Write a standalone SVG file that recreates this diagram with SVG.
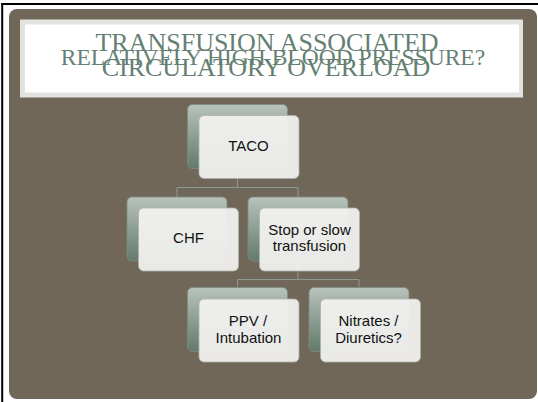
<svg xmlns="http://www.w3.org/2000/svg" width="538" height="402" viewBox="0 0 538 402">
  <defs>
    <linearGradient id="backFill" x1="0" y1="0" x2="0" y2="1">
      <stop offset="0" stop-color="#b8c3bb"/>
      <stop offset="0.5" stop-color="#8d9e93"/>
      <stop offset="1" stop-color="#627a6c"/>
    </linearGradient>
    <style>
      .title { font-family: "Liberation Serif", "Times New Roman", serif; fill: #667f73; text-anchor: middle; }
      .back { fill: url(#backFill); stroke: #7d8c82; stroke-width: 0.8; }
      .front { fill: #f3f3f1; fill-opacity: 0.93; stroke: #a9b2ab; stroke-width: 0.8; }
      .label { font-family: "Liberation Sans", Arial, sans-serif; font-size: 15px; fill: #111; text-anchor: middle; }
      .conn { fill: none; stroke: #8c9b92; stroke-width: 1; }
    </style>
  </defs>

  <!-- page background and frame -->
  <rect x="0" y="0" width="538" height="402" fill="#ffffff"/>
  <line x1="2.2" y1="3" x2="2.2" y2="402" stroke="#000" stroke-width="2"/>
  <line x1="1.2" y1="4" x2="538" y2="4" stroke="#000" stroke-width="2"/>
  <rect x="9" y="9" width="528" height="390" rx="8" fill="#716759"/>

  <!-- title box -->
  <rect x="20" y="19.5" width="503" height="78" fill="#e2e2df"/>
  <rect x="25" y="24.5" width="494" height="68" fill="#ffffff"/>
  <text class="title" x="267" y="51" font-size="26">TRANSFUSION ASSOCIATED</text>
  <text class="title" x="273" y="65" font-size="23.5">RELATIVELY HIGH BLOOD PRESSURE?</text>
  <text class="title" x="266" y="76" font-size="26">CIRCULATORY OVERLOAD</text>

  <!-- connectors -->
  <g id="connectors">
    <path class="conn" d="M237.5 168 V187.5 M177 197 V187.5 H298 V197"/>
    <path class="conn" d="M298 260 V279.5 M237.5 287 V279.5 H359 V287"/>
  </g>

  <g id="taco">
    <rect class="back" x="187.5" y="104.5" width="100" height="64" rx="5"/>
    <rect class="front" x="199" y="115.5" width="100" height="63" rx="5"/>
    <text class="label" x="248.5" y="150.5">TACO</text>
  </g>

  <g id="chf">
    <rect class="back" x="127" y="197" width="100" height="64" rx="5"/>
    <rect class="front" x="138.5" y="208" width="100" height="63" rx="5"/>
    <text class="label" x="188.5" y="242.5">CHF</text>
  </g>

  <g id="stop">
    <rect class="back" x="248" y="197" width="100" height="64" rx="5"/>
    <rect class="front" x="259.5" y="208" width="100" height="63" rx="5"/>
    <text class="label" x="309.5" y="235">Stop or slow</text>
    <text class="label" x="309.5" y="251">transfusion</text>
  </g>

  <g id="ppv">
    <rect class="back" x="187.5" y="287.5" width="100" height="64" rx="5"/>
    <rect class="front" x="199" y="299" width="100" height="63" rx="5"/>
    <text class="label" x="248" y="326">PPV /</text>
    <text class="label" x="248.5" y="343">Intubation</text>
  </g>

  <g id="nitrates">
    <rect class="back" x="309" y="287.5" width="100" height="64" rx="5"/>
    <rect class="front" x="320.5" y="299" width="100" height="63" rx="5"/>
    <text class="label" x="368.5" y="326">Nitrates  /</text>
    <text class="label" x="368.5" y="343">Diuretics?</text>
  </g>
</svg>
